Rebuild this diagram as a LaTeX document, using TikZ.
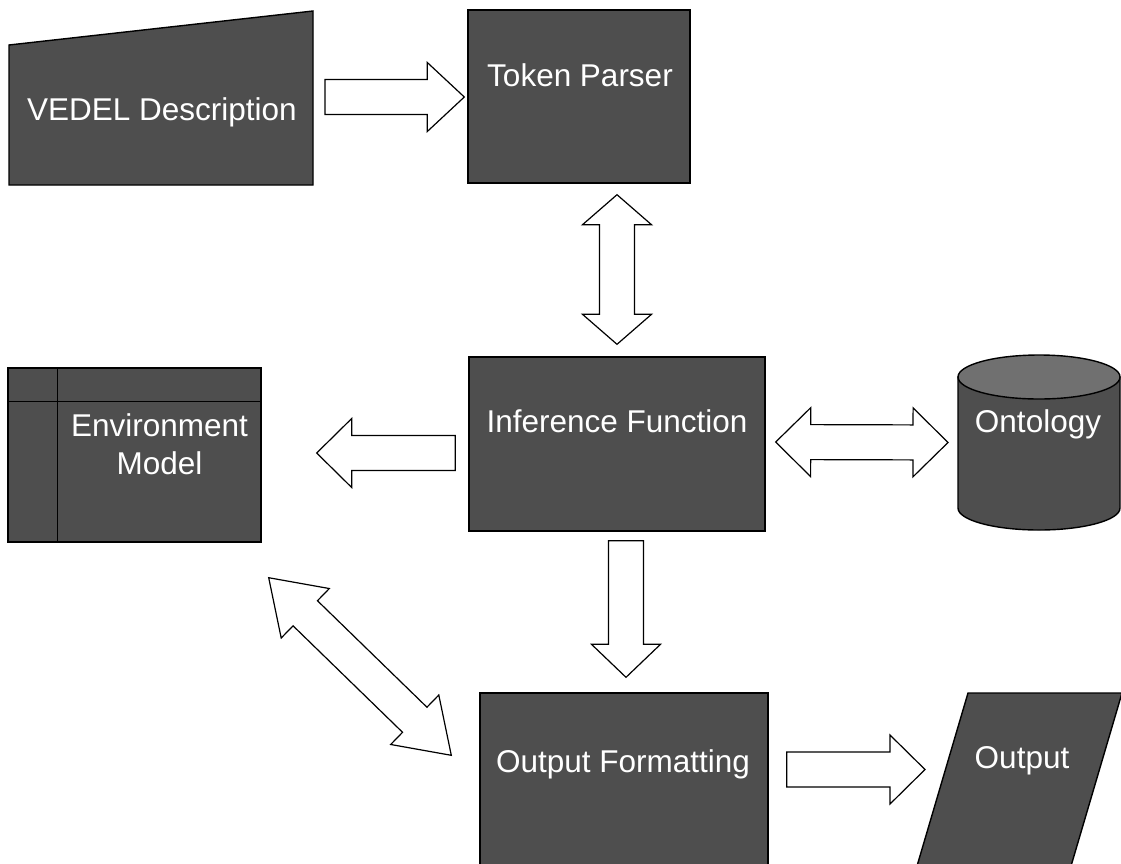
\documentclass[tikz,border=0pt]{standalone}
\usepackage{fontspec}
\setmainfont{Liberation Sans}
\usepackage{tikz}
\usetikzlibrary{calc}

\definecolor{boxgray}{RGB}{78,78,78}
\definecolor{topgray}{RGB}{112,112,112}

\newcommand{\shaftw}{17.5pt}
\newcommand{\headw}{34.5pt}

% hollow block arrow, #2 = tail, #3 = tip, #1 = head length
\newcommand{\blockarrow}[3][35]{%
  \coordinate (hb) at ($(#3)!#1pt!(#2)$);
  \draw[hollow] ($(#2)!\shaftw!90:(#3)$) -- ($(hb)!\shaftw!90:(#3)$)
    -- ($(hb)!\headw!90:(#3)$) -- (#3) -- ($(hb)!\headw!-90:(#3)$)
    -- ($(hb)!\shaftw!-90:(#3)$) -- ($(#2)!\shaftw!-90:(#3)$) -- cycle;
}
% same with a head at both ends
\newcommand{\blockdarrow}[3][35]{%
  \coordinate (ha) at ($(#2)!#1pt!(#3)$);
  \coordinate (hb) at ($(#3)!#1pt!(#2)$);
  \draw[hollow] (#2) -- ($(ha)!\headw!90:(#3)$) -- ($(ha)!\shaftw!90:(#3)$)
    -- ($(hb)!\shaftw!90:(#3)$) -- ($(hb)!\headw!90:(#3)$) -- (#3)
    -- ($(hb)!\headw!-90:(#3)$) -- ($(hb)!\shaftw!-90:(#3)$)
    -- ($(ha)!\shaftw!-90:(#3)$) -- ($(ha)!\headw!-90:(#3)$) -- cycle;
}

\begin{document}
\begin{tikzpicture}[x=1pt, y=-1pt,
    box/.style = {draw, fill=boxgray, line width=1.4pt},
    frame/.style = {inner sep=0pt, outer sep=0pt},
    boxtext/.style = {text=white, inner sep=0pt, font=\fontsize{31.5}{38}\selectfont},
    hollow/.style = {draw, fill=white, line width=1.2pt, line join=miter}]
    \useasboundingbox (0,0) rectangle (1121,863);
    \fill[white] (0,0) rectangle (1121,863);

    % blocks
    \node[frame, minimum width=304pt, minimum height=174pt] (vedel) at (161,98) {};
    \draw[box] (vedel.south west) -- ($(vedel.north west)+(0,34)$) -- (vedel.north east) -- (vedel.south east) -- cycle;
    \node[box, minimum width=222pt, minimum height=173pt] (token) at (579,96.5) {};
    \node[box, minimum width=296pt, minimum height=174pt] (infer) at (617,444) {};
    \node[box, minimum width=253pt, minimum height=174pt] (env) at (134.5,455) {};
    \draw[line width=1.4pt] ($(env.north west)+(50,0)$) -- ($(env.south west)+(50,0)$);
    \draw[line width=1.4pt] ($(env.north west)+(0,34)$) -- ($(env.north east)+(0,34)$);
    \node[frame, minimum width=162pt, minimum height=175pt] (onto) at (1039,442.5) {};
    \draw[box] ($(onto.north west)+(0,22)$) -- ($(onto.south west)+(0,-22)$)
        arc[start angle=180, end angle=360, x radius=81pt, y radius=22pt]
        -- ($(onto.north east)+(0,22)$) -- cycle;
    \draw[box, fill=topgray] ($(onto.north)+(0,22)$) ellipse [x radius=81pt, y radius=22pt];
    \node[box, minimum width=288pt, minimum height=173pt] (outfmt) at (624,779.5) {};
    \node[frame, minimum width=205pt, minimum height=173pt] (out) at (1019.5,779.5) {};
    \draw[box] ($(out.north west)+(51,0)$) -- (out.north east) -- ($(out.south east)+(-51,0)$) -- (out.south west) -- cycle;

    % texts
    \node[boxtext, anchor=base] (vedel-t) at (162,120) {VEDEL Description};
    \node[boxtext, anchor=base] (token-t) at (580,86) {Token Parser};
    \node[boxtext, anchor=base] (infer-t) at (617,432) {Inference Function};
    \node[boxtext, align=center] (env-t) at (159.5,444.5) {Environment\\Model};
    \node[boxtext, anchor=base] (onto-t) at (1038,432) {Ontology};
    \node[boxtext, anchor=base] (outfmt-t) at (623,772) {Output Formatting};
    \node[boxtext, anchor=base] (out-t) at (1022,768) {Output};

    % arrow ends
    \coordinate (a1s) at ($(vedel.east)+(12,-1)$);
    \coordinate (a1e) at ($(token.west |- a1s)+(-3,0)$);
    \coordinate (a2s) at ($(infer.north |- token.south)+(0,11)$);
    \coordinate (a2e) at ($(infer.north)+(0,-12)$);
    \coordinate (a3s) at ($(infer.west)+(-13,9)$);
    \coordinate (a3e) at ($(env.east)+(55,-2)$);
    \coordinate (a4s) at ($(infer.east)+(10,-2)$);
    \coordinate (a4e) at ($(onto.west)+(-10,0)$);
    \coordinate (a5s) at ($(infer.south)+(9,9)$);
    \coordinate (a5e) at ($(outfmt.north)+(2,-15)$);
    \coordinate (a6s) at ($(env.south east)+(7,35)$);
    \coordinate (a6e) at ($(outfmt.north west)+(-28,63)$);
    \coordinate (a7s) at ($(outfmt.east)+(18,-10)$);
    \coordinate (a7e) at ($(out.west)+(8,-10)$);

    % arrows
    \blockarrow[37]{a1s}{a1e}
    \blockdarrow[30]{a2s}{a2e}
    \blockarrow[35]{a3s}{a3e}
    \blockdarrow[35]{a4s}{a4e}
    \blockarrow[33]{a5s}{a5e}
    \blockdarrow[51]{a6s}{a6e}
    \blockarrow[35]{a7s}{a7e}
\end{tikzpicture}
\end{document}
